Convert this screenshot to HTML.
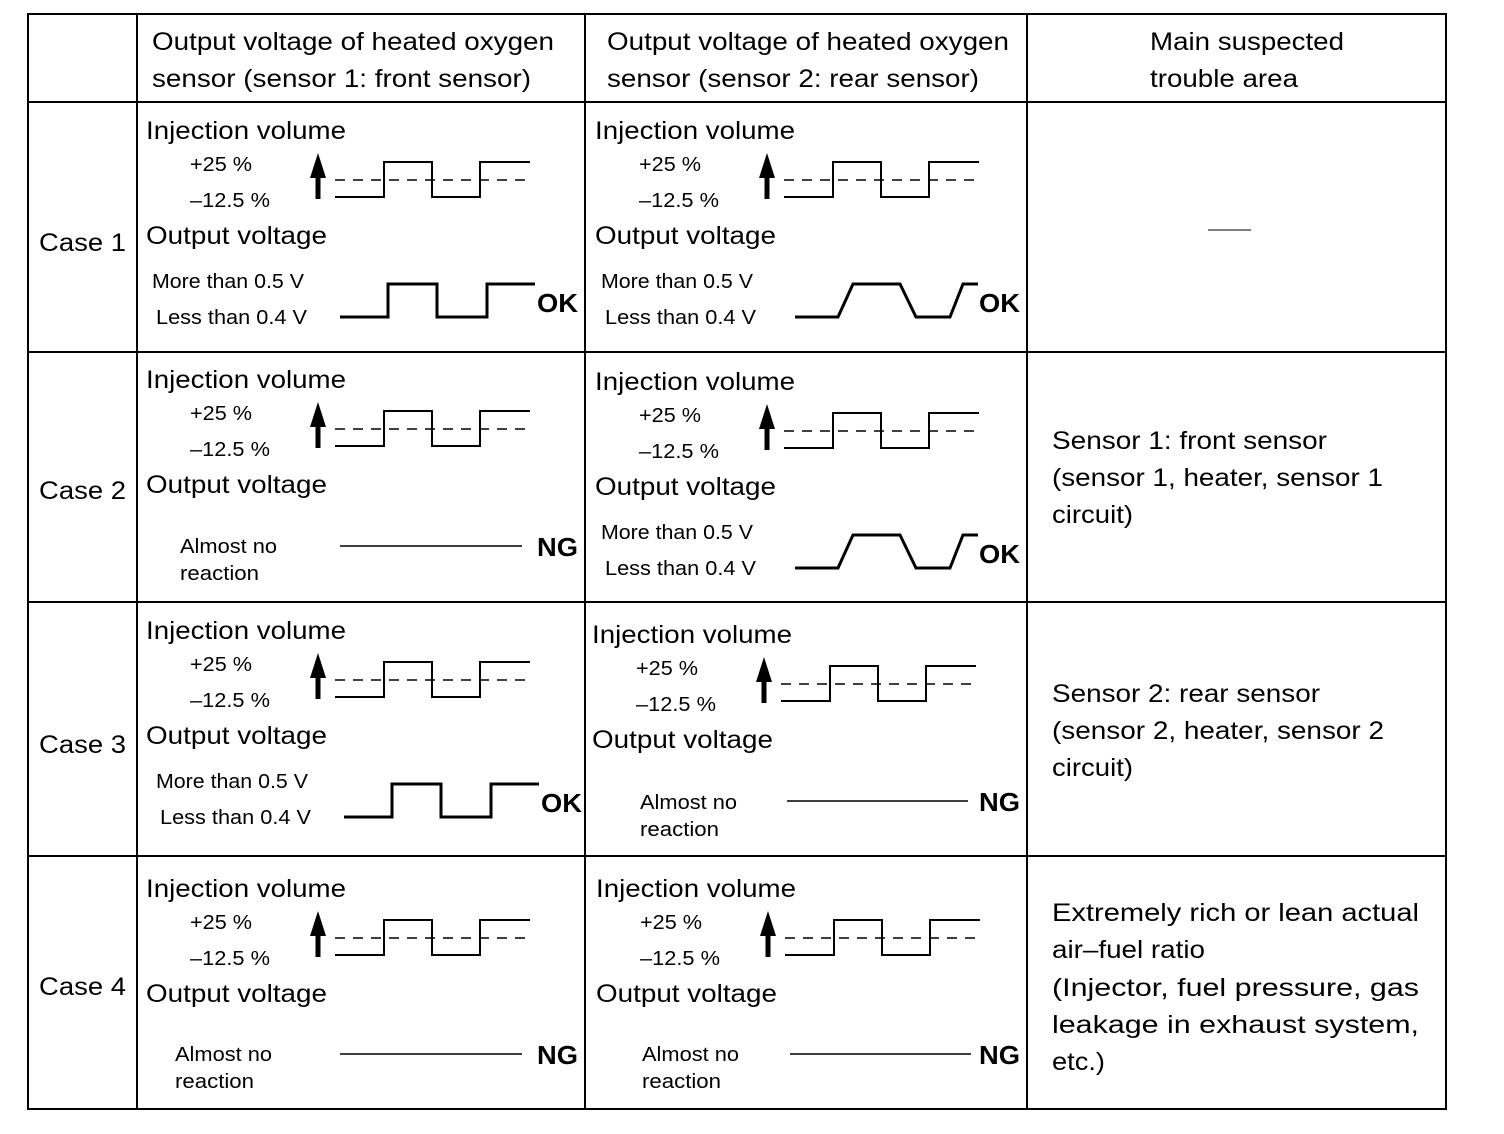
<!DOCTYPE html>
<html><head><meta charset="utf-8"><style>
html,body{margin:0;padding:0;background:#fff;}
svg{display:block;}
text{font-family:"Liberation Sans",Arial,sans-serif;fill:#000;}
.big{font-size:25px;}
.sm{font-size:20px;}
.b{font-weight:bold;font-size:26px;}
</style></head><body>
<svg width="1504" height="1134" viewBox="0 0 1504 1134" xmlns="http://www.w3.org/2000/svg">
<defs>
<g id="inj">
  <text class="big" x="146" y="139" textLength="200" lengthAdjust="spacingAndGlyphs">Injection volume</text>
  <text class="sm" x="190" y="171" textLength="62" lengthAdjust="spacingAndGlyphs">+25 %</text>
  <text class="sm" x="190" y="207" textLength="80" lengthAdjust="spacingAndGlyphs">–12.5 %</text>
  <line x1="318" y1="199" x2="318" y2="172" stroke="#000" stroke-width="5"/>
  <polygon points="318,153 310,178 326,178" fill="#000"/>
  <polyline points="335,197 384,197 384,162 432,162 432,197 480,197 480,162 530,162" fill="none" stroke="#000" stroke-width="2"/>
  <line x1="335" y1="180" x2="530" y2="180" stroke="#000" stroke-width="1.5" stroke-dasharray="10,8"/>
  <text class="big" x="146" y="244" textLength="181" lengthAdjust="spacingAndGlyphs">Output voltage</text>
</g>
<g id="sq">
  <text class="sm" x="152" y="288" textLength="152" lengthAdjust="spacingAndGlyphs">More than 0.5 V</text>
  <text class="sm" x="156" y="324" textLength="151" lengthAdjust="spacingAndGlyphs">Less than 0.4 V</text>
  <polyline points="340,317 388,317 388,284 437,284 437,317 487,317 487,284 535,284" fill="none" stroke="#000" stroke-width="3"/>
  <text class="b" x="537" y="312" textLength="41" lengthAdjust="spacingAndGlyphs">OK</text>
</g>
<g id="tr">
  <text class="sm" x="152" y="288" textLength="152" lengthAdjust="spacingAndGlyphs">More than 0.5 V</text>
  <text class="sm" x="156" y="324" textLength="151" lengthAdjust="spacingAndGlyphs">Less than 0.4 V</text>
  <polyline points="346,317 389,317 404,284 451,284 467,317 501,317 514,284 529,284" fill="none" stroke="#000" stroke-width="3"/>
  <text class="b" x="530" y="312" textLength="41" lengthAdjust="spacingAndGlyphs">OK</text>
</g>
<g id="ng">
  <text class="sm" x="180" y="553" textLength="97" lengthAdjust="spacingAndGlyphs">Almost no</text>
  <text class="sm" x="180" y="580" textLength="79" lengthAdjust="spacingAndGlyphs">reaction</text>
</g>
</defs>
<rect x="28" y="14" width="1418" height="1095" fill="none" stroke="#000" stroke-width="2"/>
<g stroke="#000" stroke-width="2">
<line x1="137" y1="14" x2="137" y2="1109"/>
<line x1="585" y1="14" x2="585" y2="1109"/>
<line x1="1027" y1="14" x2="1027" y2="1109"/>
<line x1="28" y1="102" x2="1446" y2="102"/>
<line x1="28" y1="352" x2="1446" y2="352"/>
<line x1="28" y1="602" x2="1446" y2="602"/>
<line x1="28" y1="856" x2="1446" y2="856"/>
</g>
<text class="big" x="152" y="50" textLength="402" lengthAdjust="spacingAndGlyphs">Output voltage of heated oxygen</text>
<text class="big" x="152" y="87" textLength="379" lengthAdjust="spacingAndGlyphs">sensor (sensor 1: front sensor)</text>
<text class="big" x="607" y="50" textLength="402" lengthAdjust="spacingAndGlyphs">Output voltage of heated oxygen</text>
<text class="big" x="607" y="87" textLength="372" lengthAdjust="spacingAndGlyphs">sensor (sensor 2: rear sensor)</text>
<text class="big" x="1150" y="50" textLength="194" lengthAdjust="spacingAndGlyphs">Main suspected</text>
<text class="big" x="1150" y="87" textLength="148" lengthAdjust="spacingAndGlyphs">trouble area</text>

<text class="big" x="39" y="251" textLength="87" lengthAdjust="spacingAndGlyphs">Case 1</text>
<text class="big" x="39" y="499" textLength="87" lengthAdjust="spacingAndGlyphs">Case 2</text>
<text class="big" x="39" y="753" textLength="87" lengthAdjust="spacingAndGlyphs">Case 3</text>
<text class="big" x="39" y="995" textLength="87" lengthAdjust="spacingAndGlyphs">Case 4</text>

<!-- Case 1 -->
<use href="#inj"/>
<use href="#sq"/>
<use href="#inj" transform="translate(449,0)"/>
<use href="#tr" transform="translate(449,0)"/>
<line x1="1208" y1="230" x2="1251" y2="230" stroke="#000" stroke-width="1"/>

<!-- Case 2 -->
<use href="#inj" transform="translate(0,249)"/>
<use href="#ng"/>
<line x1="340" y1="546" x2="522" y2="546" stroke="#000" stroke-width="1.5"/>
<text class="b" x="537" y="556" textLength="41" lengthAdjust="spacingAndGlyphs">NG</text>
<use href="#inj" transform="translate(449,251)"/>
<use href="#tr" transform="translate(449,251)"/>
<text class="big" x="1052" y="449" textLength="275" lengthAdjust="spacingAndGlyphs">Sensor 1: front sensor</text>
<text class="big" x="1052" y="486" textLength="331" lengthAdjust="spacingAndGlyphs">(sensor 1, heater, sensor 1</text>
<text class="big" x="1052" y="523" textLength="81" lengthAdjust="spacingAndGlyphs">circuit)</text>

<!-- Case 3 -->
<use href="#inj" transform="translate(0,500)"/>
<use href="#sq" transform="translate(4,500)"/>
<use href="#inj" transform="translate(446,504)"/>
<use href="#ng" transform="translate(460,256)"/>
<line x1="787" y1="801" x2="968" y2="801" stroke="#000" stroke-width="1.5"/>
<text class="b" x="979" y="811" textLength="41" lengthAdjust="spacingAndGlyphs">NG</text>
<text class="big" x="1052" y="702" textLength="268" lengthAdjust="spacingAndGlyphs">Sensor 2: rear sensor</text>
<text class="big" x="1052" y="739" textLength="332" lengthAdjust="spacingAndGlyphs">(sensor 2, heater, sensor 2</text>
<text class="big" x="1052" y="776" textLength="81" lengthAdjust="spacingAndGlyphs">circuit)</text>

<!-- Case 4 -->
<use href="#inj" transform="translate(0,758)"/>
<use href="#ng" transform="translate(-5,508)"/>
<line x1="340" y1="1054" x2="522" y2="1054" stroke="#000" stroke-width="1.5"/>
<text class="b" x="537" y="1064" textLength="41" lengthAdjust="spacingAndGlyphs">NG</text>
<use href="#inj" transform="translate(450,758)"/>
<use href="#ng" transform="translate(462,508)"/>
<line x1="790" y1="1054" x2="971" y2="1054" stroke="#000" stroke-width="1.5"/>
<text class="b" x="979" y="1064" textLength="41" lengthAdjust="spacingAndGlyphs">NG</text>
<text class="big" x="1052" y="921" textLength="367" lengthAdjust="spacingAndGlyphs">Extremely rich or lean actual</text>
<text class="big" x="1052" y="958" textLength="153" lengthAdjust="spacingAndGlyphs">air–fuel ratio</text>
<text class="big" x="1052" y="996" textLength="367" lengthAdjust="spacingAndGlyphs">(Injector, fuel pressure, gas</text>
<text class="big" x="1052" y="1033" textLength="367" lengthAdjust="spacingAndGlyphs">leakage in exhaust system,</text>
<text class="big" x="1052" y="1070" textLength="53" lengthAdjust="spacingAndGlyphs">etc.)</text>
</svg>
</body></html>
